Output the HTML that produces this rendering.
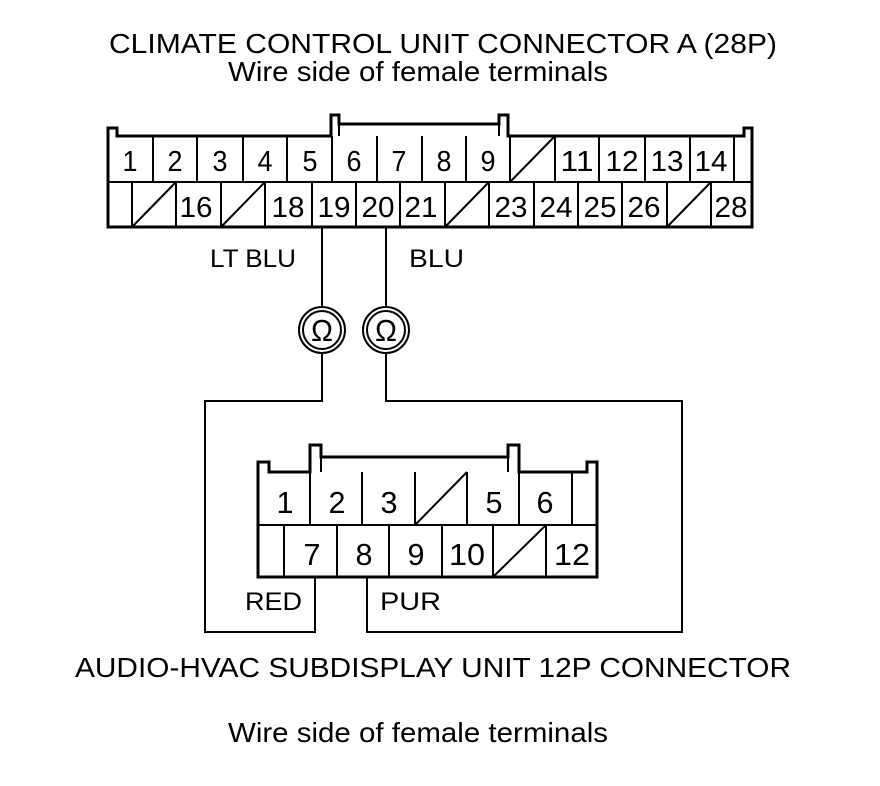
<!DOCTYPE html>
<html><head><meta charset="utf-8"><style>
html,body{margin:0;padding:0;background:#fff;}
svg{display:block;}
text{font-family:"Liberation Sans",Arial,sans-serif;fill:#000;}
</style></head><body>
<svg width="880" height="786" viewBox="0 0 880 786" xmlns="http://www.w3.org/2000/svg">
<g font-size="28">
<text x="443" y="53" text-anchor="middle" textLength="668" lengthAdjust="spacingAndGlyphs">CLIMATE CONTROL UNIT CONNECTOR A (28P)</text>
<text x="418" y="81" text-anchor="middle" textLength="380" lengthAdjust="spacingAndGlyphs">Wire side of female terminals</text>
<text x="433" y="677" text-anchor="middle" textLength="716" lengthAdjust="spacingAndGlyphs">AUDIO-HVAC SUBDISPLAY UNIT 12P CONNECTOR</text>
<text x="418" y="742" text-anchor="middle" textLength="380" lengthAdjust="spacingAndGlyphs">Wire side of female terminals</text>
</g>

<g fill="none" stroke="#000">
<path d="M108 227 V128 H117 V136 H331 V115 H339 V124 H499 V115 H508 V136 H744 V128 H752 V227 Z" stroke-width="3"/>
<line x1="339" y1="124" x2="339" y2="136" stroke-width="2"/>
<line x1="499" y1="124" x2="499" y2="136" stroke-width="2"/>
<line x1="108" y1="182" x2="752" y2="182" stroke-width="2"/>
<g stroke-width="2">
<line x1="153" y1="136" x2="153" y2="182"/><line x1="197" y1="136" x2="197" y2="182"/>
<line x1="243" y1="136" x2="243" y2="182"/><line x1="287" y1="136" x2="287" y2="182"/>
<line x1="332" y1="136" x2="332" y2="182"/><line x1="377" y1="136" x2="377" y2="182"/>
<line x1="422" y1="136" x2="422" y2="182"/><line x1="466" y1="136" x2="466" y2="182"/>
<line x1="510" y1="136" x2="510" y2="182"/><line x1="555" y1="136" x2="555" y2="182"/>
<line x1="599" y1="136" x2="599" y2="182"/><line x1="645" y1="136" x2="645" y2="182"/>
<line x1="690" y1="136" x2="690" y2="182"/><line x1="734" y1="136" x2="734" y2="182"/>
<line x1="132" y1="182" x2="132" y2="227"/><line x1="176" y1="182" x2="176" y2="227"/>
<line x1="221" y1="182" x2="221" y2="227"/><line x1="265" y1="182" x2="265" y2="227"/>
<line x1="312" y1="182" x2="312" y2="227"/><line x1="356" y1="182" x2="356" y2="227"/>
<line x1="400" y1="182" x2="400" y2="227"/><line x1="445" y1="182" x2="445" y2="227"/>
<line x1="489" y1="182" x2="489" y2="227"/><line x1="534" y1="182" x2="534" y2="227"/>
<line x1="578" y1="182" x2="578" y2="227"/><line x1="622" y1="182" x2="622" y2="227"/>
<line x1="667" y1="182" x2="667" y2="227"/><line x1="711" y1="182" x2="711" y2="227"/>
<line x1="510" y1="182" x2="555" y2="136"/>
<line x1="132" y1="227" x2="176" y2="182"/>
<line x1="221" y1="227" x2="265" y2="182"/>
<line x1="445" y1="227" x2="489" y2="182"/>
<line x1="667" y1="227" x2="711" y2="182"/>
</g>
</g>
<g font-size="29" text-anchor="middle">
<text x="130" y="171" textLength="15" lengthAdjust="spacingAndGlyphs">1</text><text x="175" y="171" textLength="15" lengthAdjust="spacingAndGlyphs">2</text><text x="220" y="171" textLength="15" lengthAdjust="spacingAndGlyphs">3</text>
<text x="265" y="171" textLength="15" lengthAdjust="spacingAndGlyphs">4</text><text x="310" y="171" textLength="15" lengthAdjust="spacingAndGlyphs">5</text><text x="354" y="171" textLength="15" lengthAdjust="spacingAndGlyphs">6</text>
<text x="399" y="171" textLength="15" lengthAdjust="spacingAndGlyphs">7</text><text x="444" y="171" textLength="15" lengthAdjust="spacingAndGlyphs">8</text><text x="488" y="171" textLength="15" lengthAdjust="spacingAndGlyphs">9</text>
<text x="577" y="171" textLength="33" lengthAdjust="spacingAndGlyphs">11</text><text x="622" y="171" textLength="33" lengthAdjust="spacingAndGlyphs">12</text><text x="667" y="171" textLength="33" lengthAdjust="spacingAndGlyphs">13</text><text x="711" y="171" textLength="33" lengthAdjust="spacingAndGlyphs">14</text>
<text x="196" y="217" textLength="33" lengthAdjust="spacingAndGlyphs">16</text><text x="288" y="217" textLength="33" lengthAdjust="spacingAndGlyphs">18</text><text x="334" y="217" textLength="33" lengthAdjust="spacingAndGlyphs">19</text>
<text x="378" y="217" textLength="33" lengthAdjust="spacingAndGlyphs">20</text><text x="421" y="217" textLength="33" lengthAdjust="spacingAndGlyphs">21</text><text x="511" y="217" textLength="33" lengthAdjust="spacingAndGlyphs">23</text>
<text x="556" y="217" textLength="33" lengthAdjust="spacingAndGlyphs">24</text><text x="600" y="217" textLength="33" lengthAdjust="spacingAndGlyphs">25</text><text x="644" y="217" textLength="33" lengthAdjust="spacingAndGlyphs">26</text><text x="731" y="217" textLength="33" lengthAdjust="spacingAndGlyphs">28</text>
</g>

<g fill="none" stroke="#000" stroke-width="2">
<path d="M322 227 V307"/>
<path d="M386 227 V307"/>
<path d="M322 353 V401 H205 V632 H315 V577"/>
<path d="M386 353 V401 H682 V632 H367 V577"/>
<circle cx="322" cy="330" r="23"/><circle cx="322" cy="330" r="19"/>
<circle cx="386" cy="330" r="23"/><circle cx="386" cy="330" r="19"/>
</g>
<g font-size="31" text-anchor="middle">
<text x="322" y="341" textLength="22" lengthAdjust="spacingAndGlyphs">Ω</text><text x="386" y="341" textLength="22" lengthAdjust="spacingAndGlyphs">Ω</text>
</g>
<g font-size="25">
<text x="210" y="267" textLength="86" lengthAdjust="spacingAndGlyphs">LT BLU</text>
<text x="409" y="267" textLength="55" lengthAdjust="spacingAndGlyphs">BLU</text>
<text x="245" y="610" textLength="57" lengthAdjust="spacingAndGlyphs">RED</text>
<text x="380" y="610" textLength="61" lengthAdjust="spacingAndGlyphs">PUR</text>
</g>

<g fill="none" stroke="#000">
<path d="M258 577 V462 H269 V472 H310 V445 H321 V457 H508 V445 H519 V472 H587 V462 H597 V577 Z" stroke-width="3"/>
<line x1="321" y1="457" x2="321" y2="472" stroke-width="2"/>
<line x1="508" y1="457" x2="508" y2="472" stroke-width="2"/>
<g stroke-width="2">
<line x1="258" y1="525" x2="597" y2="525"/>
<line x1="310" y1="472" x2="310" y2="525"/><line x1="362" y1="472" x2="362" y2="525"/>
<line x1="415" y1="472" x2="415" y2="525"/><line x1="467" y1="472" x2="467" y2="525"/>
<line x1="519" y1="472" x2="519" y2="525"/><line x1="572" y1="472" x2="572" y2="525"/>
<line x1="284" y1="525" x2="284" y2="577"/><line x1="337" y1="525" x2="337" y2="577"/>
<line x1="389" y1="525" x2="389" y2="577"/><line x1="442" y1="525" x2="442" y2="577"/>
<line x1="493" y1="525" x2="493" y2="577"/><line x1="546" y1="525" x2="546" y2="577"/>
<line x1="415" y1="525" x2="467" y2="472"/>
<line x1="493" y1="577" x2="546" y2="525"/>
</g>
</g>
<g font-size="31" text-anchor="middle">
<text x="285" y="513" textLength="17" lengthAdjust="spacingAndGlyphs">1</text><text x="337" y="513" textLength="17" lengthAdjust="spacingAndGlyphs">2</text><text x="389" y="513" textLength="17" lengthAdjust="spacingAndGlyphs">3</text>
<text x="494" y="513" textLength="17" lengthAdjust="spacingAndGlyphs">5</text><text x="545" y="513" textLength="17" lengthAdjust="spacingAndGlyphs">6</text>
<text x="312" y="565" textLength="17" lengthAdjust="spacingAndGlyphs">7</text><text x="364" y="565" textLength="17" lengthAdjust="spacingAndGlyphs">8</text><text x="416" y="565" textLength="17" lengthAdjust="spacingAndGlyphs">9</text>
<text x="467" y="565" textLength="36" lengthAdjust="spacingAndGlyphs">10</text><text x="572" y="565" textLength="36" lengthAdjust="spacingAndGlyphs">12</text>
</g>
</svg>
</body></html>
